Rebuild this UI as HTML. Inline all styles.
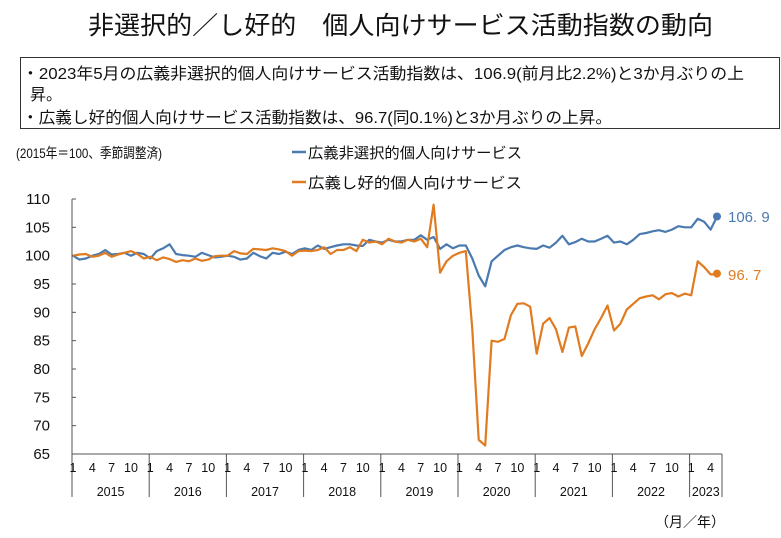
<!DOCTYPE html>
<html><head><meta charset="utf-8"><style>
body{margin:0;background:#fff;}
svg{display:block;font-family:"Liberation Sans","Noto Sans CJK JP",sans-serif;}
</style></head><body>
<svg id="s" width="781" height="538" viewBox="0 0 781 538" xmlns="http://www.w3.org/2000/svg">
<text x="88" y="34" font-size="25" textLength="625" lengthAdjust="spacingAndGlyphs" fill="#111">非選択的／し好的　個人向けサービス活動指数の動向</text>
<rect x="20.5" y="57.5" width="759" height="71" fill="none" stroke="#333" stroke-width="1"/>
<text x="22" y="79" font-size="16" textLength="722" lengthAdjust="spacingAndGlyphs" fill="#111">・2023年5月の広義非選択的個人向けサービス活動指数は、106.9(前月比2.2%)と3か月ぶりの上</text>
<text x="30" y="100" font-size="16" fill="#111">昇。</text>
<text x="22" y="123" font-size="16" textLength="590" lengthAdjust="spacingAndGlyphs" fill="#111">・広義し好的個人向けサービス活動指数は、96.7(同0.1%)と3か月ぶりの上昇。</text>
<text x="16" y="158" font-size="14" textLength="146" lengthAdjust="spacingAndGlyphs" fill="#111">(2015年＝100、季節調整済)</text>
<line x1="292" y1="152" x2="306" y2="152" stroke="#4a7ab0" stroke-width="2.5"/>
<text x="308" y="158" font-size="15" textLength="214" lengthAdjust="spacingAndGlyphs" fill="#111">広義非選択的個人向けサービス</text>
<line x1="292" y1="182" x2="306" y2="182" stroke="#e07b20" stroke-width="2.5"/>
<text x="308" y="188" font-size="15" textLength="214" lengthAdjust="spacingAndGlyphs" fill="#111">広義し好的個人向けサービス</text>
<g id="ax" stroke="#555" stroke-width="1" fill="none"></g>
<g id="lb" font-size="15" fill="#111"></g>
<polyline id="pb" fill="none" stroke="#4a7ab0" stroke-width="2.2" stroke-linejoin="round"/>
<polyline id="po" fill="none" stroke="#e07b20" stroke-width="2.2" stroke-linejoin="round"/>
<circle cx="717" cy="216.5" r="4" fill="#4a7ab0"/>
<circle cx="717" cy="273.6" r="4" fill="#e07b20"/>
<text x="728" y="222" font-size="15" fill="#4a7ab0">106. 9</text>
<text x="728" y="280" font-size="15" fill="#e07b20">96. 7</text>
<text x="655" y="527" font-size="14" fill="#111">（月／年）</text>
</svg>
<script>
var X=function(i){return 73+6.44*i},Y=function(v){return 454-(v-65)*5.667};
var b=[100,99.3,99.5,100,100.3,101,100.2,100.3,100.5,100,100.5,100.3,
99.5,100.8,101.3,102,100.3,100.1,100,99.8,100.5,100.1,99.7,99.8,
100,99.8,99.3,99.5,100.5,99.9,99.5,100.5,100.3,100.7,100.3,101,
101.3,101,101.8,101.2,101.5,101.8,102,102,101.8,101.7,102.8,102.5,
102.3,102.8,102.5,102.5,102.8,102.8,103.6,102.8,
103.3,101.2,102,101.3,101.8,101.8,99.5,96.5,94.6,99,100,101,101.5,101.8,101.5,101.3,
101.2,101.8,101.4,102.3,103.5,102,102.4,103,102.5,102.5,103,103.5,
102.3,102.5,102,102.8,103.8,104,104.3,104.5,104.2,104.6,105.2,105,
105,106.5,106,104.6,106.9];
var o=[100,100.2,100.3,99.8,100,100.5,99.8,100.2,100.5,100.8,100.3,99.5,
99.8,99.2,99.7,99.4,98.9,99.2,99,99.5,99.1,99.3,99.9,100,
100,100.8,100.4,100.3,101.2,101.1,101,101.3,101.1,100.8,100,100.8,
100.9,100.8,101,101.5,100.3,101,101,101.5,100.8,102.8,102.3,102.5,
102,103,102.5,102.3,102.8,102.5,103,101.5,
109,97,99,100,100.5,100.8,87,67.5,66.5,85,84.8,85.3,89.5,91.5,91.6,91,
82.7,88,89,87,83,87.3,87.5,82.3,84.5,87,89,91.2,
86.8,88,90.5,91.5,92.5,92.8,93,92.3,93.2,93.4,92.8,93.3,
93,99,98,96.7,96.7];
function pts(a){return a.map(function(v,i){return X(i).toFixed(1)+","+Y(v).toFixed(1)}).join(" ")}
document.getElementById("pb").setAttribute("points",pts(b));
document.getElementById("po").setAttribute("points",pts(o));
var ax=document.getElementById("ax"),lb=document.getElementById("lb"),h="",t="";
h+='<line x1="72" y1="199" x2="72" y2="497"/><line x1="72" y1="454" x2="722" y2="454"/>';
for(var v=65;v<=110;v+=5){var y=Y(v);h+='<line x1="72" y1="'+y+'" x2="76" y2="'+y+'"/>';t+='<text x="50" y="'+(y+5)+'" text-anchor="end" font-size="15">'+v+'</text>';}
var yrs=[2015,2016,2017,2018,2019,2020,2021,2022,2023];
for(var k=0;k<9;k++){var x0=72+77.2*k,x1=k<8?x0+77.2:722;h+='<line x1="'+x0+'" y1="454" x2="'+x0+'" y2="497"/>';
t+='<text x="'+((x0+x1)/2)+'" y="496" text-anchor="middle" font-size="12.5">'+yrs[k]+'</text>';
var ms=k<8?[1,4,7,10]:[1,4];ms.forEach(function(m){t+='<text x="'+X(k*12+m-1)+'" y="472" text-anchor="middle" font-size="12.5">'+m+'</text>';});}
h+='<line x1="722" y1="454" x2="722" y2="497"/>';
ax.innerHTML=h;lb.innerHTML=t;
</script>
</body></html>
